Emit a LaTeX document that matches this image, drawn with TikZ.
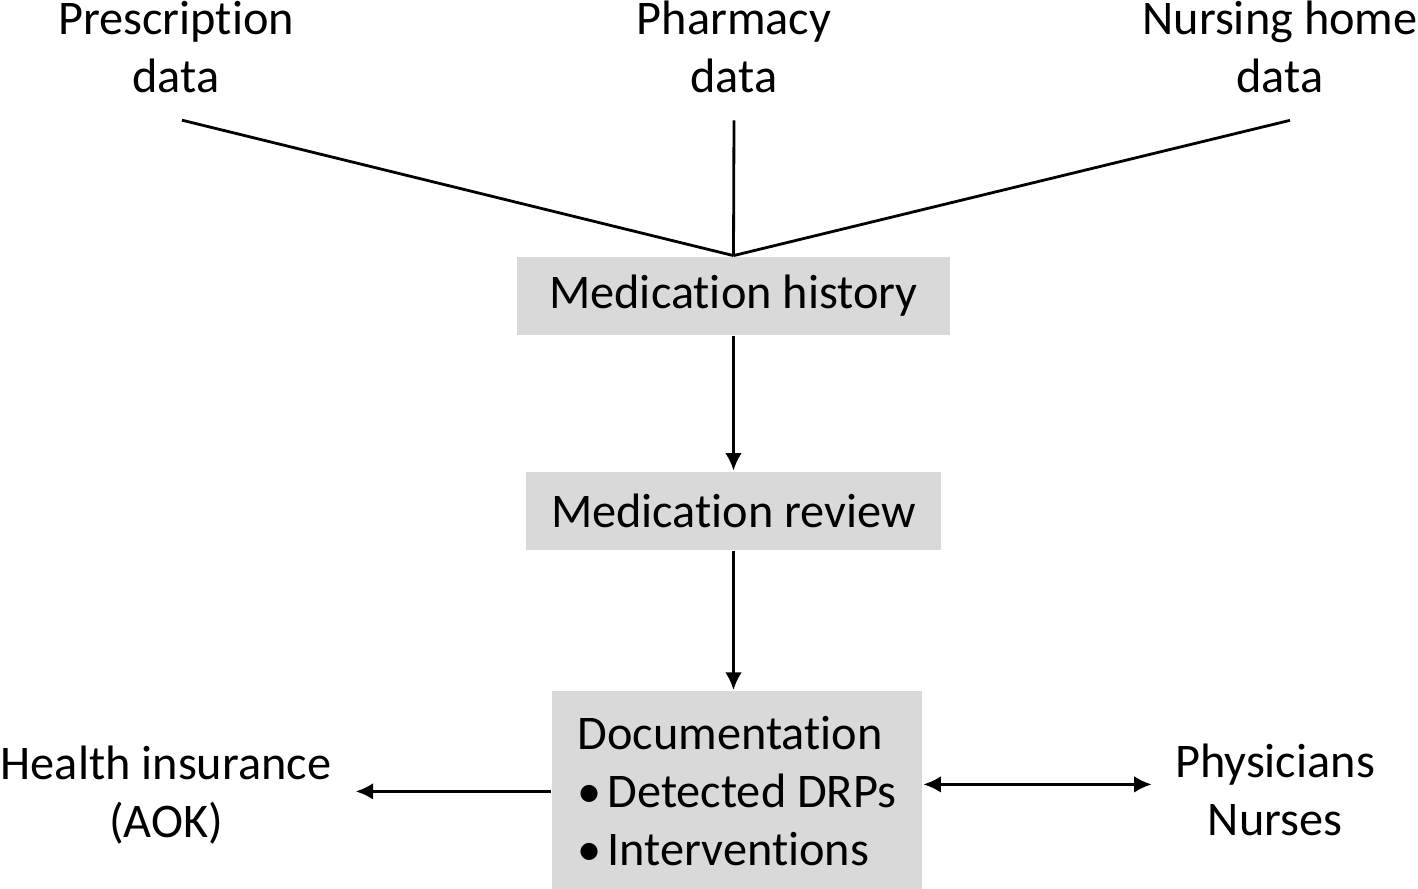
\documentclass[tikz,border=0pt]{standalone}
\usepackage{fontspec}
\setmainfont{Carlito}[Ligatures={NoCommon,NoDiscretionary}]
\usetikzlibrary{arrows.meta}
\definecolor{boxgray}{HTML}{D9D9D9}
\begin{document}
\begin{tikzpicture}[x=0.02cm,y=-0.02cm,line width=1.6pt]
  \tikzstyle{txt}=[font=\fontsize{27.5}{33}\selectfont]
  \tikzstyle{source}=[txt,align=center,inner xsep=0pt,inner ysep=0.52cm]
  \tikzstyle{target}=[txt,align=center,inner sep=0pt]
  \tikzstyle{stage}=[txt,fill=boxgray,minimum height=1.56cm,inner sep=0pt]
  \tikzstyle{arr}=[draw,-{Latex[length=10pt,width=9.5pt]}]
  \useasboundingbox (0,0) rectangle (1418,889);
  % data sources
  \node[source] (presc) at (176,47) {Prescription\\data};
  \node[source] (pharm) at (734,47) {Pharmacy\\data};
  \node[source] (nurs)  at (1280,47) {Nursing home\\data};
  % steps
  \node[stage,minimum width=8.66cm] (hist) at (733.5,296) {Medication history};
  \node[stage,minimum width=8.3cm]  (rev)  at (733.5,511) {Medication review};
  \node[stage,anchor=north,minimum width=7.4cm,minimum height=4cm,align=left] (doc) at (737,690)
        {Documentation\\\textbullet\hspace{0.12em}Detected DRPs\\\textbullet\hspace{0.12em}Interventions};
  % receivers
  \node[target] (health) at (166,795) {Health insurance\\(AOK)};
  \node[target] (phys)   at (1275,790) {Physicians\\Nurses};
  % connections
  \draw ([xshift=0.12cm]presc.south) -- (hist.north);
  \draw (pharm.south) -- (hist.north);
  \draw ([xshift=0.2cm]nurs.south) -- (hist.north);
  \draw[arr] (hist.south) -- (rev.north);
  \draw[arr] (rev.south) -- (rev.south |- doc.north);
  \draw[arr,shorten >=0.46cm] (doc.west) -- (doc.west -| health.east);
  \draw[arr,{Latex[length=10pt,width=9.5pt]}-{Latex[length=10pt,width=9.5pt]},shorten >=0.44cm]
    ([yshift=0.14cm]doc.east) -- ([yshift=0.14cm]doc.east -| phys.west);
\end{tikzpicture}
\end{document}
